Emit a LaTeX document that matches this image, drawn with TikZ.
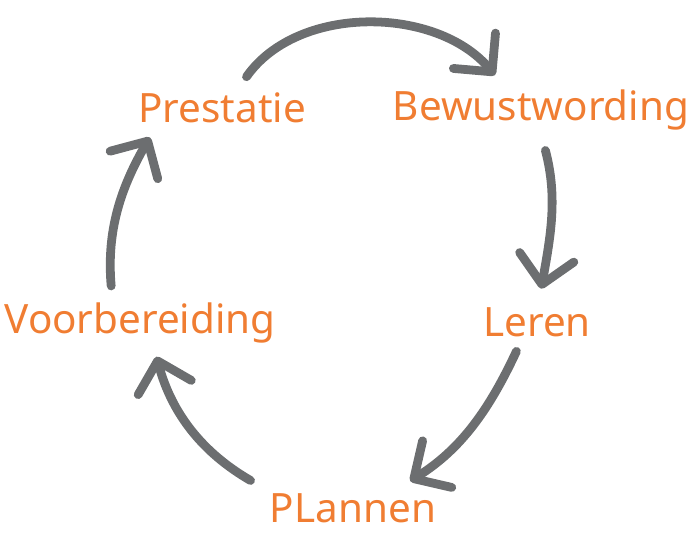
\documentclass[tikz,border=0pt]{standalone}
\usepackage{fontspec}
\setmainfont{Noto Sans}
\usetikzlibrary{arrows.meta}
\definecolor{cycorange}{RGB}{240,125,50}
\definecolor{cycgray}{RGB}{108,110,112}

\begin{document}
\begin{tikzpicture}[x=0.02cm, y=0.02cm,
		stage/.style={text=cycorange, font=\fontsize{23}{27}\selectfont, inner sep=2pt},
		cyc/.style={draw=cycgray, line width=5pt, line cap=round,
			-{Straight Barb[length=5.5mm, width=11mm, round]}}]
			\useasboundingbox (0,0) rectangle (694,536);

			% Stages
			\node[stage] (prest) at (222,428) {Prestatie};
			\node[stage] (bew) at (541,426) {Bewustwording};
			\node[stage] (leren) at (537,214) {Leren};
			\node[stage] (plan) at (353,28) {PLannen};
			\node[stage] (voor) at (140,213) {Voorbereiding};

			% Cycle arrows
			\draw[cyc, shorten <=0.3cm, shorten >=0.28cm] (prest.50) to[out=55, in=130] (bew.147);
			\draw[cyc, shorten <=0.34cm, shorten >=0.3cm] (bew.-90) to[out=-75, in=80] (leren.85);
			\draw[cyc, shorten <=0.24cm, shorten >=0.32cm] (leren.-130) to[out=-115, in=32] (plan.23);
			\draw[cyc, shorten <=0.36cm, shorten >=0.2cm] (plan.north west) to[out=150, in=-75] (voor.-60);
			\draw[cyc, shorten <=0.26cm, shorten >=0.24cm] (voor.139) to[out=95, in=-120] (prest.-164);
		\end{tikzpicture}
\end{document}
